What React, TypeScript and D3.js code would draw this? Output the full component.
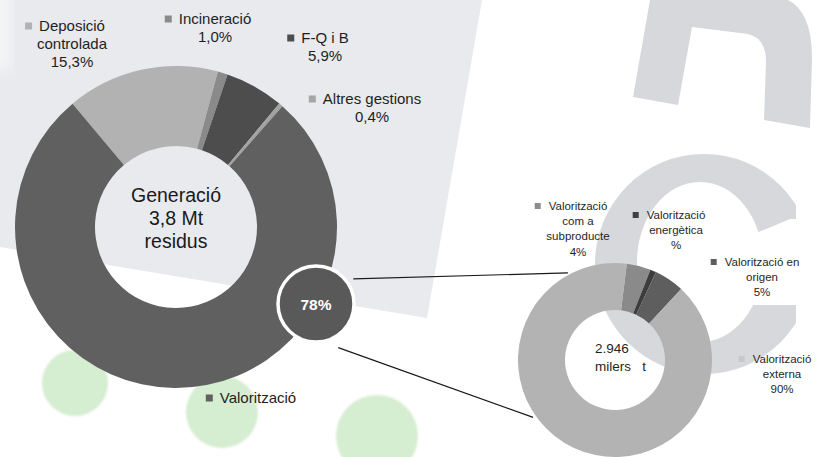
import React, { useEffect, useRef } from 'react';
import * as d3 from 'd3';

// main donut: generation by treatment
const mainCategories = ['Deposició controlada', 'Incineració', 'F-Q i B', 'Altres gestions', 'Valorització'];
const mainValues = [15.3, 1.0, 5.9, 0.4, 77.4];
const mainColors = ['#b2b2b2', '#8a8a8a', '#4d4d4d', '#a3a3a3', '#606060'];
const mainKeyColors = ['#b2b2b2', '#8a8a8a', '#4d4d4d', '#a6a6a6', '#606060'];
const mainLabelLines = [
  ['Deposició', 'controlada', '15,3%'],
  ['Incineració', '1,0%'],
  ['F-Q i B', '5,9%'],
  ['Altres gestions', '0,4%'],
  ['Valorització'],
];
const mainCenterText = ['Generació', '3,8 Mt', 'residus'];
const bubbleText = '78%';

// secondary donut: breakdown of valorització
const subCategories = ['Valorització com a subproducte', 'Valorització energètica', 'Valorització en origen', 'Valorització externa'];
const subValues = [4, 1, 5, 90];
const subColors = ['#8a8a8a', '#3d3d3d', '#5e5e5e', '#b3b3b3'];
const subKeyColors = ['#8c8c8c', '#404040', '#5e5e5e', '#c8c8c8'];
const subLabelLines = [
  ['Valorització', 'com a', 'subproducte', '4%'],
  ['Valorització', 'energètica', '%'],
  ['Valorització en', 'origen', '5%'],
  ['Valorització', 'externa', '90%'],
];
const subCenterText = ['2.946', 'milers   t'];

const W = 816;
const H = 457;
const FONT = '"Liberation Sans", Arial, Helvetica, sans-serif';
const rad = (deg: number) => (deg * Math.PI) / 180;

export default function App() {
  const svgRef = useRef<SVGSVGElement>(null);

  useEffect(() => {
    if (!svgRef.current) return;
    const svg = d3.select(svgRef.current);
    svg.selectAll('*').remove();

    const defs = svg.append('defs');
    defs.append('filter').attr('id', 'soft').append('feGaussianBlur').attr('stdDeviation', 1.2);
    defs.append('filter').attr('id', 'soft2').append('feGaussianBlur').attr('stdDeviation', 6);

    // background
    svg.append('rect').attr('width', W).attr('height', H).attr('fill', '#ffffff');
    svg.append('path')
      .attr('d', 'M0,0 L482,0 L427,318 L0,247 Z')
      .attr('fill', '#e8eaed');
    svg.append('rect')
      .attr('x', -10).attr('y', -10).attr('width', 22).attr('height', 80)
      .attr('fill', '#f3f4f6').attr('filter', 'url(#soft2)');

    // watermark letters
    const wm = '#d6d8db';
    svg.append('path')
      .attr('d', 'M650,0 L633,97 L678,105 L692,27 L748,34 Q766,38 766,62 L764,120 L810,128 L812,58 Q812,12 788,0 Z')
      .attr('fill', wm);
    // "C": elliptic ring with an opening on the right
    const mask = defs.append('mask').attr('id', 'cmask');
    mask.append('rect').attr('width', W).attr('height', H).attr('fill', '#fff');
    mask.append('path').attr('d', 'M735,242 L790,219 L830,219 L830,305 L735,305 Z').attr('fill', '#000');
    mask.append('rect').attr('x', 796).attr('y', 0).attr('width', 40).attr('height', H).attr('fill', '#000');
    const ring = (cx: number, cy: number, rx: number, ry: number) =>
      `M${cx - rx},${cy} A${rx},${ry} 0 1,0 ${cx + rx},${cy} A${rx},${ry} 0 1,0 ${cx - rx},${cy} Z`;
    svg.append('path')
      .attr('d', ring(704, 264, 109, 110) + ' ' + ring(700, 262, 63, 80))
      .attr('fill-rule', 'evenodd')
      .attr('fill', wm)
      .attr('mask', 'url(#cmask)');

    // green dots
    const dots = [
      { x: 75, y: 383, r: 33 },
      { x: 222, y: 412, r: 36 },
      { x: 377, y: 436, r: 41 },
    ];
    svg.selectAll('circle.dot').data(dots).enter().append('circle')
      .attr('class', 'dot')
      .attr('cx', d => d.x).attr('cy', d => d.y).attr('r', d => d.r)
      .attr('fill', '#d5edd0').attr('filter', 'url(#soft)');

    const drawLabel = (
      g: d3.Selection<SVGGElement, unknown, null, undefined>,
      lines: string[], cx: number, cy: number, size: number, lh: number,
      key: string, keySize: number, gap: number,
    ) => {
      const t = g.append('text')
        .attr('font-family', FONT).attr('font-size', size).attr('fill', '#1f1f1f')
        .attr('text-anchor', 'middle');
      lines.forEach((ln, i) => {
        t.append('tspan').attr('x', cx).attr('y', cy + i * lh).attr('dy', '0.35em').text(ln);
      });
      const first = t.select<SVGTSpanElement>('tspan').node();
      const w = first ? first.getComputedTextLength() : 0;
      g.append('rect')
        .attr('x', cx - w / 2 - gap - keySize).attr('y', cy - keySize / 2)
        .attr('width', keySize).attr('height', keySize).attr('fill', key);
    };

    // main donut
    const mc = { x: 176, y: 227 };
    const mainPie = d3.pie<number>().sort(null).startAngle(rad(-40)).endAngle(rad(320))(mainValues);
    const mainArc = d3.arc<d3.PieArcDatum<number>>().innerRadius(81).outerRadius(161);
    const gm = svg.append('g').attr('transform', `translate(${mc.x},${mc.y})`);
    gm.selectAll('path').data(mainPie).enter().append('path')
      .attr('d', mainArc)
      .attr('fill', (_d, i) => mainColors[i]);

    const ct = svg.append('text').attr('font-family', FONT).attr('font-size', 19.5)
      .attr('fill', '#1a1a1a').attr('text-anchor', 'middle');
    mainCenterText.forEach((ln, i) => {
      ct.append('tspan').attr('x', mc.x).attr('y', 195 + i * 23).attr('dy', '0.35em').text(ln);
    });

    const mainLabelPos = [
      { x: 72, y: 26 },
      { x: 215, y: 19 },
      { x: 325, y: 38 },
      { x: 372, y: 99 },
      { x: 258, y: 398 },
    ];
    const gl = svg.append('g');
    mainCategories.forEach((_c, i) => {
      drawLabel(gl, mainLabelLines[i], mainLabelPos[i].x, mainLabelPos[i].y, 15, 18, mainKeyColors[i], 7, 7);
    });

    // secondary donut
    const sc = { x: 615, y: 360 };
    const R2 = 97;
    const bubble = { x: 316, y: 304, r: 38 };
    const polar = (c: { x: number; y: number }, a: number, r: number) => [c.x + r * Math.sin(rad(a)), c.y - r * Math.cos(rad(a))];

    // connector lines
    const links = [
      [polar(bubble, 56, 45), polar(sc, -28.4, 99)],
      [polar(bubble, 153, 49), polar(sc, 235, 100)],
    ];
    svg.selectAll('line.link').data(links).enter().append('line')
      .attr('class', 'link')
      .attr('x1', d => d[0][0]).attr('y1', d => d[0][1])
      .attr('x2', d => d[1][0]).attr('y2', d => d[1][1])
      .attr('stroke', '#1a1a1a').attr('stroke-width', 1.2);

    const subPie = d3.pie<number>().sort(null).startAngle(rad(7)).endAngle(rad(367))(subValues);
    const subArc = d3.arc<d3.PieArcDatum<number>>().innerRadius(50).outerRadius(R2);
    const gs = svg.append('g').attr('transform', `translate(${sc.x},${sc.y})`);
    gs.selectAll('path').data(subPie).enter().append('path')
      .attr('d', subArc)
      .attr('fill', (_d, i) => subColors[i]);

    const st = svg.append('text').attr('font-family', FONT).attr('font-size', 13.5)
      .attr('fill', '#1f1f1f').attr('xml:space', 'preserve').style('white-space', 'pre');
    subCenterText.forEach((ln, i) => {
      st.append('tspan').attr('x', 595).attr('y', 348 + i * 18).attr('dy', '0.35em').text(ln);
    });

    const subLabelPos = [
      { x: 578, y: 206 },
      { x: 676, y: 215 },
      { x: 762, y: 262 },
      { x: 782, y: 359 },
    ];
    subCategories.forEach((_c, i) => {
      drawLabel(gl, subLabelLines[i], subLabelPos[i].x, subLabelPos[i].y, 11.5, 15.2, subKeyColors[i], 6, 8);
    });

    // 78% bubble
    svg.append('circle')
      .attr('cx', bubble.x).attr('cy', bubble.y).attr('r', bubble.r)
      .attr('fill', '#595959').attr('stroke', '#ffffff').attr('stroke-width', 3.5);
    svg.append('text')
      .attr('x', bubble.x).attr('y', bubble.y + 1).attr('dy', '0.35em')
      .attr('text-anchor', 'middle').attr('font-family', FONT).attr('font-weight', 'bold')
      .attr('font-size', 15.5).attr('fill', '#ffffff')
      .text(bubbleText);
  }, []);

  return (
    <div style={{ position: 'absolute', left: 0, top: 0, width: W, height: H }}>
      <svg ref={svgRef} width={W} height={H} viewBox={`0 0 ${W} ${H}`} style={{ display: 'block' }} />
    </div>
  );
}
